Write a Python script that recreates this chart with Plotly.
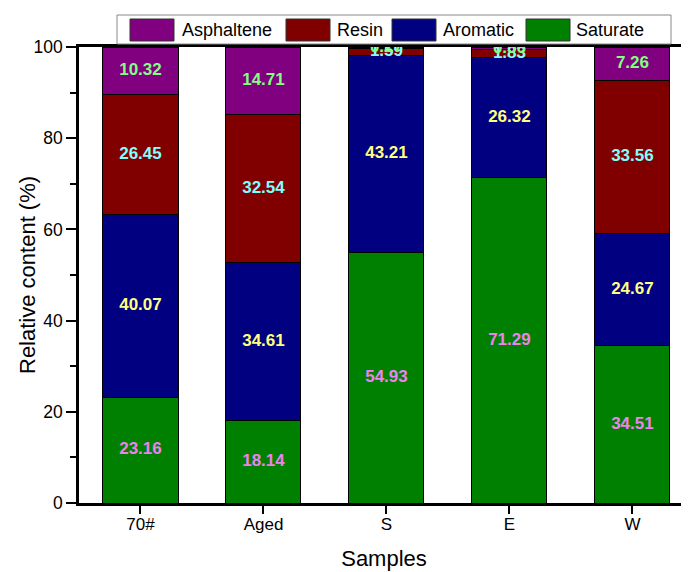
import numpy as np
import plotly.graph_objects as go

samples = ["70#", "Aged", "S", "E", "W"]
saturate = [23.16, 18.14, 54.93, 71.29, 34.51]
aromatic = [40.07, 34.61, 43.21, 26.32, 24.67]
resin = [26.45, 32.54, 1.59, 1.83, 33.56]
asphaltene = [10.32, 14.71, 0.27, 0.56, 7.26]

series_names = ["Saturate", "Aromatic", "Resin", "Asphaltene"]
series_vals = [saturate, aromatic, resin, asphaltene]
bar_colors = ["#008000", "#000080", "#800000", "#800080"]
label_colors = ["#ee82ee", "#ffff80", "#80ffff", "#80ff80"]

OFF = 8  # page body margin offset
W, H = 689, 572
ML, MT = 79 - OFF, 47 - OFF
PW, PH = 610, 456
MR = W - ML - PW
MB = H - MT - PH

def px(x):
    return (x - OFF - ML) / PW

def py(y):
    return (MT + PH - (y - OFF)) / PH

fig = go.Figure()
for name, vals, col in zip(series_names, series_vals, bar_colors):
    fig.add_trace(go.Bar(
        x=samples, y=vals, name=name,
        marker=dict(color=col, line=dict(color="black", width=1)),
        showlegend=False,
    ))

cum = np.cumsum(np.array(series_vals), axis=0)
for i, (vals, lc) in enumerate(zip(series_vals, label_colors)):
    mids = cum[i] - np.array(vals) / 2
    fig.add_trace(go.Scatter(
        x=samples, y=mids, mode="text",
        text=[f"{v:.2f}" for v in vals],
        textfont=dict(family="Liberation Sans, Arial", size=17, color=lc, weight="bold"),
        textposition="middle center",
        cliponaxis=True, showlegend=False, hoverinfo="skip",
    ))

# Custom legend (large swatches like the reference)
shapes = [dict(type="rect", xref="paper", yref="paper",
               x0=px(117), x1=px(671), y0=py(44), y1=py(15),
               line=dict(color="#888888", width=1), fillcolor="white", layer="above")]
annotations = []
legend_items = [("Asphaltene", "#800080", 130, 180),
                ("Resin", "#800000", 286, 335),
                ("Aromatic", "#000080", 392, 441),
                ("Saturate", "#008000", 526, 574)]
for name, col, sx, tx in legend_items:
    shapes.append(dict(type="rect", xref="paper", yref="paper",
                       x0=px(sx), x1=px(sx + 44), y0=py(41), y1=py(19),
                       line=dict(color="#333333", width=1), fillcolor=col, layer="above"))
    annotations.append(dict(xref="paper", yref="paper", x=px(tx), y=py(30),
                            text=name, showarrow=False, xanchor="left", yanchor="middle",
                            font=dict(family="Liberation Sans, Arial", size=18, color="black")))

# y-axis title as a rotated annotation for exact placement
annotations.append(dict(xref="paper", yref="paper", x=px(27), y=py(275),
                        text="Relative content (%)", showarrow=False, textangle=-90,
                        xanchor="center", yanchor="middle",
                        font=dict(family="Liberation Sans, Arial", size=22, color="black")))

fig.update_layout(
    width=W, height=H,
    margin=dict(l=ML, r=MR, t=MT, b=MB, pad=0, autoexpand=False),
    barmode="stack", bargap=0.39,
    plot_bgcolor="white", paper_bgcolor="white",
    font=dict(family="Liberation Sans, Arial", color="black"),
    shapes=shapes, annotations=annotations,
    xaxis=dict(
        range=[-0.5, 4.46], showline=True, linecolor="black", linewidth=2.5,
        mirror=True, ticks="outside", ticklen=8, tickwidth=2, tickcolor="black",
        tickfont=dict(size=17), showgrid=False, automargin=False,
        ticklabelstandoff=-4,
        title=dict(text="Samples", font=dict(size=22), standoff=18),
    ),
    yaxis=dict(
        range=[0, 100], showline=True, linecolor="black", linewidth=2.5,
        ticks="outside", ticklen=10, tickwidth=2, tickcolor="black",
        tickvals=[0, 20, 40, 60, 80, 100], tickfont=dict(size=17.5), showgrid=False,
        automargin=False,
        minor=dict(tickvals=[10, 30, 50, 70, 90], ticks="outside", ticklen=6,
                   tickwidth=2, tickcolor="black", showgrid=False),
        zeroline=False,
    ),
)

fig.write_html("out.html")
